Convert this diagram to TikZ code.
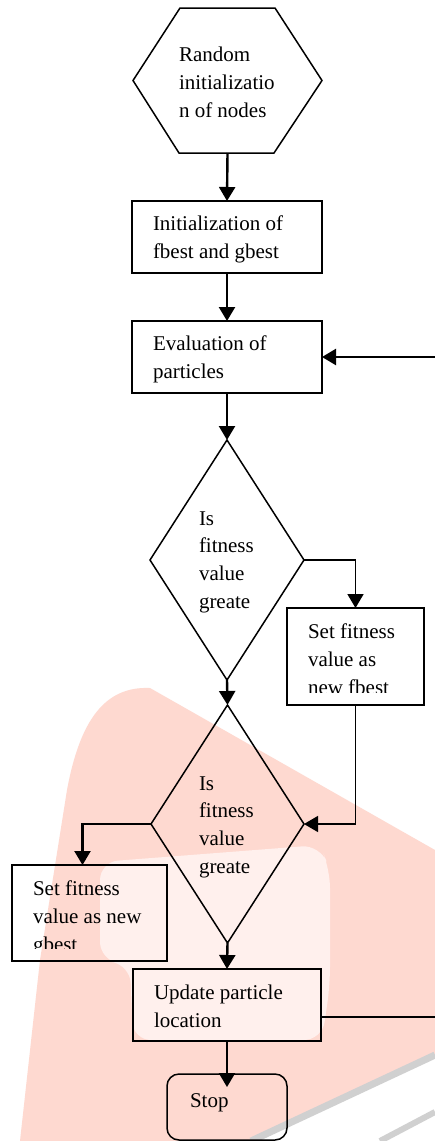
\documentclass[tikz,border=0pt]{standalone}
\usepackage{fontspec}
\setmainfont{Liberation Serif}
\usetikzlibrary{arrows.meta,shapes.geometric}
\definecolor{wmpink}{RGB}{254,217,208}
\definecolor{wmlight}{RGB}{255,240,237}
\definecolor{wmgrey}{RGB}{208,208,208}
\begin{document}
\begin{tikzpicture}[x=1pt,y=-1pt,
  outline/.style={draw=black, line width=1.5pt},
  blk/.style={outline, rectangle, inner sep=0pt, outer sep=0pt},
  dia/.style={outline, diamond, inner sep=0pt, outer sep=0pt},
  txt/.style={anchor=base west, align=left, inner sep=0pt, outer sep=0pt,
              font=\fontsize{21}{27.8}\selectfont},
  tip/.style={-{Triangle[width=16pt,length=14pt]}},
  heavyarrow/.style={tip, line width=2.4pt},
  midarrow/.style={tip, line width=1.8pt},
  thinarrow/.style={tip, line width=1.4pt},
  thinline/.style={line width=1.4pt}
]
\useasboundingbox (0,0) rectangle (435,1141);
\fill[white] (0,0) rectangle (435,1141);
\clip (0,0) rectangle (435,1141);

% watermark
\fill[wmpink] (20,1141) -- (40,960) -- (67,790)
  .. controls (80,720) and (105,686) .. (150,688) -- (435,850) -- (435,1055)
  -- (251,1141) -- cycle;
\fill[wmlight, rounded corners=18pt] (100,862) -- (320,845) -- (330,870) -- (330,985)
  -- (322,1040) -- (133,1040) -- (130,965) -- (100,960) -- cycle;
\draw[wmgrey, line width=7pt] (251,1141) -- (435,1055);
\draw[wmgrey, line width=6pt] (380,1141) -- (435,1112);

% shapes
\node[blk, draw=none, minimum width=189pt, minimum height=145pt] (hex) at (227.5,80.5) {};
\draw[outline] ([xshift=47pt]hex.north west) -- ([xshift=-47pt]hex.north east)
  -- (hex.east) -- ([xshift=-48pt]hex.south east) -- ([xshift=46pt]hex.south west)
  -- (hex.west) -- cycle;
\node[blk, minimum width=190pt, minimum height=72pt] (init) at (227,237) {};
\node[blk, minimum width=190pt, minimum height=72pt] (eval) at (227,357) {};
\node[dia, minimum width=154pt, minimum height=240pt] (d1) at (227,560) {};
\node[blk, minimum width=137pt, minimum height=97pt] (fb) at (355.5,656.5) {};
\node[dia, minimum width=153pt, minimum height=238pt] (d2) at (227.5,824) {};
\node[blk, minimum width=155pt, minimum height=96pt] (gb) at (89.5,913) {};
\node[blk, minimum width=188pt, minimum height=72pt] (upd) at (227,1005) {};
\node[blk, rounded corners=12pt, minimum width=120pt, minimum height=66pt] (stop) at (227,1107) {};
\coordinate (loop) at (445,1017);

% texts (anchor = baseline of the last line)
\node[txt] (hext) at (179,117) {Random\\initializatio\\n of nodes};
\node[txt] (initt) at (153,258) {Initialization of\\fbest and gbest};
\node[txt] (evalt) at (153,378) {Evaluation of\\particles};
\node[txt] (d1t) at (199,608.5) {Is\\fitness\\value\\greate};
\begin{scope}
  \clip (287,608) rectangle (424,692);
  \node[txt] (fbt) at (308,694.5) {Set fitness\\value as\\new fbest};
\end{scope}
\node[txt] (d2t) at (199,873.5) {Is\\fitness\\value\\greate};
\begin{scope}
  \clip (12,865) rectangle (167,948.5);
  \node[txt] (gbt) at (33,951) {Set fitness\\value as new\\gbest};
\end{scope}
\node[txt] (updt) at (154,1027.5) {Update particle\\location};
\node[txt] (stopt) at (190,1107) {Stop};

% connectors
\draw[heavyarrow] (hex.south) -- (init.north);
\draw[heavyarrow] (init.south) -- (eval.north);
\draw[heavyarrow] (eval.south) -- (d1.north);
\draw[midarrow] (d1.east) -| (fb.north);
\draw[heavyarrow] (d1.south) -- (d2.north);
\draw[thinarrow] (fb.south) |- (d2.east);
\draw[heavyarrow] (d2.west) -| ([xshift=-7pt]gb.north);
\draw[heavyarrow] (d2.south) -- (upd.north);
\draw[heavyarrow] (upd.south) -- ([yshift=-13pt]stop.north);
\draw[thinline] ([yshift=-12pt]upd.east) -- (loop);
\draw[heavyarrow] (loop) |- (eval.east);
\end{tikzpicture}
\end{document}
